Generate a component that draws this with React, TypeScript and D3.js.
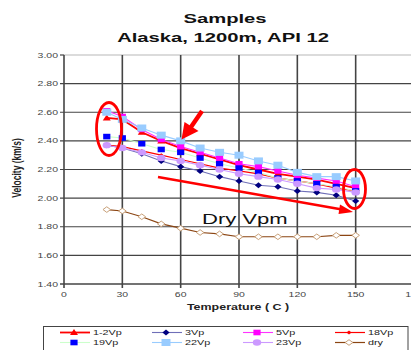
import React from 'react';
import * as d3 from 'd3';

const temps = [22, 30, 40, 50, 60, 70, 80, 90, 100, 110, 120, 130, 140, 150];
const vp12 = [2.56, 2.55, 2.46, 2.40, 2.35, 2.31, 2.27, 2.23, 2.20, 2.17, 2.15, 2.13, 2.10, 2.07];
const vp3 = [2.37, 2.35, 2.31, 2.26, 2.22, 2.19, 2.15, 2.12, 2.09, 2.08, 2.05, 2.04, 2.02, 1.98];
const vp5 = [2.61, 2.57, 2.48, 2.41, 2.36, 2.32, 2.28, 2.24, 2.22, 2.19, 2.16, 2.14, 2.12, 2.08];
const vp18 = [2.37, 2.36, 2.33, 2.30, 2.27, 2.24, 2.21, 2.19, 2.17, 2.14, 2.12, 2.10, 2.07, 2.05];
const vp19 = [2.43, 2.42, 2.38, 2.34, 2.32, 2.28, 2.24, 2.21, 2.18, 2.14, 2.12, 2.10, 2.08, 2.05];
const vp22 = [2.60, 2.55, 2.49, 2.44, 2.40, 2.35, 2.32, 2.30, 2.26, 2.23, 2.18, 2.15, 2.15, 2.12];
const vp23 = [2.37, 2.35, 2.32, 2.28, 2.26, 2.23, 2.20, 2.17, 2.15, 2.13, 2.10, 2.07, 2.06, 2.04];
const dry = [1.92, 1.91, 1.87, 1.82, 1.79, 1.76, 1.75, 1.73, 1.73, 1.73, 1.73, 1.73, 1.74, 1.74];

const xTicks = [0, 30, 60, 90, 120, 150, 180];
const yTicks = [1.4, 1.6, 1.8, 2.0, 2.2, 2.4, 2.6, 2.8, 3.0];

const series = [
  { name: '1-2Vp', values: vp12, line: '#ff0000', lw: 1.8, marker: 'tri', color: '#ff0000' },
  { name: '3Vp', values: vp3, line: '#6f6fb8', lw: 1.1, marker: 'dia', color: '#000080' },
  { name: '5Vp', values: vp5, line: '#ff33ff', lw: 1.1, marker: 'sq', color: '#ff00ff' },
  { name: '18Vp', values: vp18, line: '#ff0000', lw: 1.2, marker: 'sdia', color: '#ff0000' },
  { name: '19Vp', values: vp19, line: '#ccffcc', lw: 1.1, marker: 'sq', color: '#0000ff' },
  { name: '22Vp', values: vp22, line: '#99ccff', lw: 1.1, marker: 'bigsq', color: '#99ccff' },
  { name: '23Vp', values: vp23, line: '#cc99ff', lw: 1.1, marker: 'circ', color: '#cc99ff' },
  { name: 'dry', values: dry, line: '#8b4513', lw: 1.2, marker: 'odia', color: '#c8a078' },
];

const FONT = '"Liberation Sans", Arial, sans-serif';
const SX = 1.5;

function SText(props: any) {
  const { x, y, size, weight, fill, anchor, rotate, children } = props;
  const tf = `translate(${x},${y}) scale(${SX},1)` + (rotate ? ' rotate(-90)' : '');
  return (
    <text transform={tf} fontFamily={FONT} fontSize={size} fontWeight={weight || 'normal'}
      fill={fill || '#222'} textAnchor={anchor || 'start'}>{children}</text>
  );
}

function Marker({ type, x, y, color }: any) {
  if (type === 'tri') return <polygon points={`${x},${y - 3.5} ${x + 4},${y + 2.5} ${x - 4},${y + 2.5}`} fill={color} />;
  if (type === 'dia') return <polygon points={`${x},${y - 3} ${x + 3.6},${y} ${x},${y + 3} ${x - 3.6},${y}`} fill={color} />;
  if (type === 'sdia') return <polygon points={`${x},${y - 2} ${x + 2.6},${y} ${x},${y + 2} ${x - 2.6},${y}`} fill={color} />;
  if (type === 'sq') return <rect x={x - 3.6} y={y - 2.8} width={7.2} height={5.6} fill={color} />;
  if (type === 'bigsq') return <rect x={x - 4.5} y={y - 3.5} width={9} height={7} fill={color} />;
  if (type === 'circ') return <ellipse cx={x} cy={y} rx={4.2} ry={3.2} fill={color} />;
  return <polygon points={`${x},${y - 2.8} ${x + 3.8},${y} ${x},${y + 2.8} ${x - 3.8},${y}`} fill="#fff" stroke={color} strokeWidth={1} />;
}

export default function App() {
  const width = 411;
  const height = 350;
  const x = d3.scaleLinear().domain([0, 180]).range([64, 414]);
  const y = d3.scaleLinear().domain([1.4, 3.0]).range([284, 55]);
  const line = d3.line<number>().x((_, i) => x(temps[i])).y((d) => y(d));

  const legendCols = [60, 152, 243, 335];

  return (
    <svg width={width} height={height} style={{ position: 'absolute', left: 0, top: 0, background: '#fff' }}>
      <rect x={0} y={0} width={width} height={height} fill="#fff" />
      <SText x={225} y={23} size={13.5} weight="bold" anchor="middle" fill="#111">Samples</SText>
      <SText x={223} y={42} size={13.5} weight="bold" anchor="middle" fill="#111">Alaska, 1200m, API 12</SText>

      {/* grid */}
      {yTicks.map((t) => (
        <line key={'gy' + t} x1={t === 3.0 ? 64 : 60} x2={414} y1={y(t)} y2={y(t)}
          stroke={t === 3.0 ? '#b8b8b8' : '#444'} strokeWidth={t === 1.4 ? 1.4 : 1.2} />
      ))}
      {yTicks.map((t) => t === 3.0 ? (
        <line key={'tk3'} x1={60} x2={64} y1={y(t)} y2={y(t)} stroke="#444" strokeWidth={1.2} />
      ) : null)}
      {xTicks.map((t) => (
        <line key={'gx' + t} x1={x(t)} x2={x(t)} y1={55} y2={288} stroke="#444" strokeWidth={1.6} />
      ))}

      {yTicks.map((t) => (
        <SText key={'yl' + t} x={58} y={y(t) + 2.6} size={7} anchor="end" fill="#444">{t.toFixed(2)}</SText>
      ))}
      {xTicks.map((t) => (
        <SText key={'xl' + t} x={x(t)} y={297} size={7} anchor="middle" fill="#444">{t}</SText>
      ))}
      <SText x={238} y={310} size={8.3} weight="bold" anchor="middle" fill="#222">Temperature ( C )</SText>
      <SText x={21} y={168} size={8.5} weight="bold" anchor="middle" fill="#222" rotate>Velocity (km/s)</SText>

      {/* series */}
      {series.map((s) => (
        <g key={s.name}>
          <path d={line(s.values) || ''} fill="none" stroke={s.line} strokeWidth={s.lw} />
          {s.values.map((v, i) => (
            <Marker key={i} type={s.marker} x={x(temps[i])} y={y(v)} color={s.color} />
          ))}
        </g>
      ))}

      {/* annotations */}
      <ellipse cx={109} cy={129} rx={12.5} ry={26.5} fill="none" stroke="#ff0000" strokeWidth={2.8} />
      <ellipse cx={354.5} cy={189} rx={11} ry={19.5} fill="none" stroke="#ff0000" strokeWidth={2.8} />
      <line x1={202} y1={111} x2={191} y2={127} stroke="#ff0000" strokeWidth={4.5} />
      <polygon points="181.5,139.5 184.5,122 198.5,131" fill="#ff0000" />
      <line x1={158} y1={177} x2={342} y2={209.5} stroke="#ff0000" strokeWidth={2.6} />
      <polygon points="353,212 340,204.5 338.5,214" fill="#ff0000" />
      <SText x={202} y={224} size={14.7} anchor="start" fill="#111">Dry Vpm</SText>

      {/* legend */}
      <rect x={43.5} y={326.5} width={364.5} height={30} fill="#fff" stroke="#444" strokeWidth={1} />
      {series.map((s, i) => {
        const cx = legendCols[i % 4];
        const cy = i < 4 ? 332.5 : 342.5;
        return (
          <g key={'lg' + s.name}>
            <line x1={cx} x2={cx + 30} y1={cy} y2={cy} stroke={s.line} strokeWidth={s.lw} />
            <Marker type={s.marker} x={cx + 14} y={cy} color={s.color} />
            <SText x={cx + 33} y={cy + 2.6} size={7.2} fill="#222">{s.name}</SText>
          </g>
        );
      })}
    </svg>
  );
}
